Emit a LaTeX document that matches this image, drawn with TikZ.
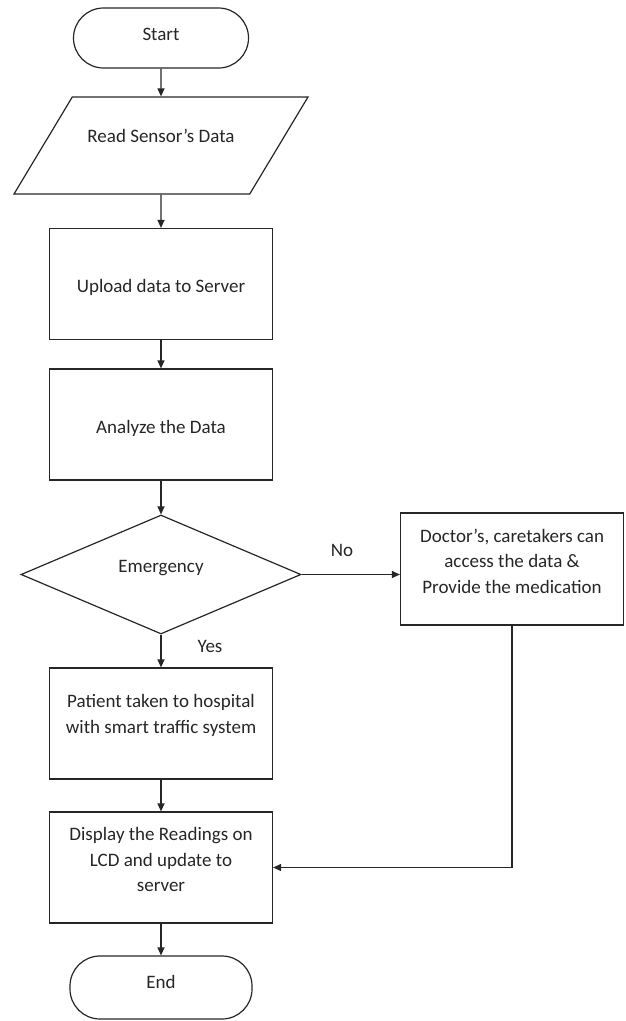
\documentclass[tikz,border=0pt]{standalone}
\usepackage{fontspec}
\setmainfont{Carlito}
\usetikzlibrary{shapes.geometric,arrows.meta}
\newcommand{\lift}[2]{\raisebox{#1}[\height][\depth]{\begin{tabular}{@{}c@{}}#2\end{tabular}}}
\tikzset{
  box/.style={draw=black!85, line width=1.2pt, text=black!85, inner sep=0pt, font=\fontsize{19}{25.5}\selectfont},
  terminal/.style={box, rectangle, rounded corners=30pt},
  io/.style={box, trapezium, trapezium left angle=59, trapezium right angle=121, trapezium stretches body, inner ysep=35.75pt, minimum width=294pt},
  process/.style={box, rectangle, minimum width=223pt, minimum height=111pt},
  decision/.style={box, diamond, minimum width=280pt, minimum height=119pt},
  arr/.style={draw=black!85, line width=1.2pt, -{Triangle[length=8pt,width=7pt]}},
  lbl/.style={inner sep=0pt, text=black!85, font=\fontsize{19}{25.5}\selectfont}
}

\begin{document}
\begin{tikzpicture}[x=1pt,y=-1pt]
  \useasboundingbox (0,0) rectangle (625,1021);
  % main column
  \node[terminal, minimum width=175pt, minimum height=60pt] (start) at (161,38) {\lift{3pt}{Start}};
  \node[io] (read) at (161,145.5) {\lift{8.5pt}{Read Sensor’s Data}};
  \node[process] (upload) at (161,284) {\lift{-3pt}{Upload data to Server}};
  \node[process] (analyze) at (161,424.5) {\lift{-3.5pt}{Analyze the Data}};
  \node[decision] (emerg) at (161,574.5) {\lift{7.5pt}{Emergency}};
  \node[process] (patient) at (161,723.5) {\lift{8pt}{Patient taken to hospital\\with smart traffic system}};
  \node[process] (display) at (161,867.5) {\lift{6.5pt}{Display the Readings on\\LCD and update to\\server}};
  \node[terminal, minimum width=182pt, minimum height=63pt] (end) at (161,987.5) {\lift{4.5pt}{End}};
  % side branch
  \node[process, minimum height=112pt] (doctor) at (512,569) {\lift{6.5pt}{Doctor’s, caretakers can\\access the data \&\\Provide the medication}};

  \draw[arr] (start) -- (read);
  \draw[arr] (read) -- (upload);
  \draw[arr] (upload) -- (analyze);
  \draw[arr] (analyze) -- (emerg);
  \draw[arr] (emerg) -- node[lbl, pos=0.35, right=36pt] {Yes} (patient);
  \draw[arr] (emerg.east) -- node[lbl, pos=0.41, above=17pt] {No} (emerg.east -| doctor.west);
  \draw[arr] (patient) -- (display);
  \draw[arr] (doctor.south) |- (display.east);
  \draw[arr] (display) -- (end);
\end{tikzpicture}
\end{document}
